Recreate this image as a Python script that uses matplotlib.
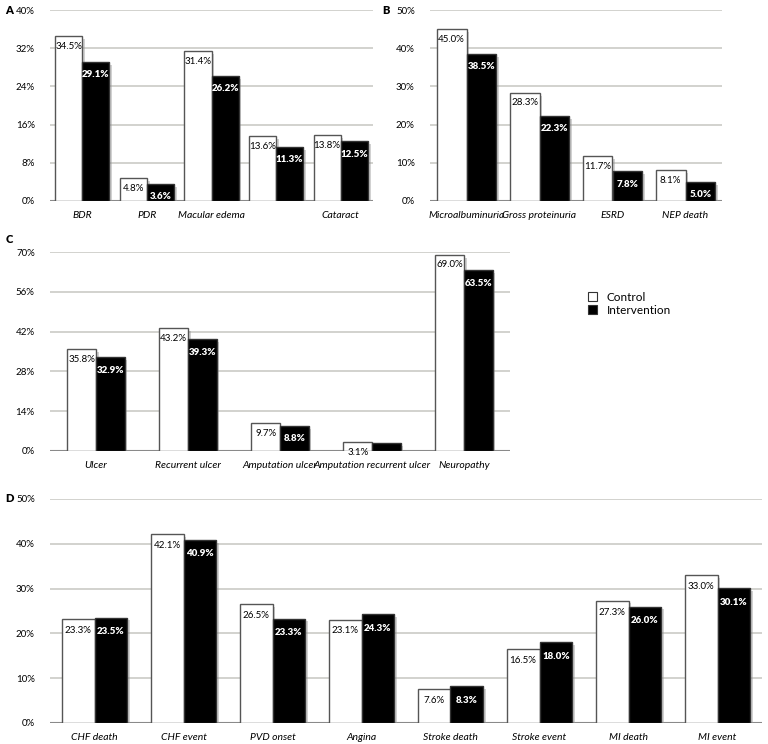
import matplotlib
matplotlib.use("Agg")
import matplotlib.pyplot as plt
import matplotlib.patheffects as pe
from matplotlib.patches import Patch
from matplotlib.ticker import FuncFormatter
import numpy as np

plt.rcParams['font.family'] = ['Lato', 'DejaVu Sans']

# ---- data ----
a_cats = ["BDR", "PDR", "Macular edema", "", "Cataract"]
a_ctrl = [34.5, 4.8, 31.4, 13.6, 13.8]
a_intv = [29.1, 3.6, 26.2, 11.3, 12.5]
a_ticks = [0, 8, 16, 24, 32, 40]

b_cats = ["Microalbuminuria", "Gross proteinuria", "ESRD", "NEP death"]
b_ctrl = [45.0, 28.3, 11.7, 8.1]
b_intv = [38.5, 22.3, 7.8, 5.0]
b_ticks = [0, 10, 20, 30, 40, 50]

c_cats = ["Ulcer", "Recurrent ulcer", "Amputation ulcer", "Amputation recurrent ulcer", "Neuropathy"]
c_ctrl = [35.8, 43.2, 9.7, 3.1, 69.0]
c_intv = [32.9, 39.3, 8.8, 2.9, 63.5]
c_ticks = [0, 14, 28, 42, 56, 70]

d_cats = ["CHF death", "CHF event", "PVD onset", "Angina", "Stroke death", "Stroke event", "MI death", "MI event"]
d_ctrl = [23.3, 42.1, 26.5, 23.1, 7.6, 16.5, 27.3, 33.0]
d_intv = [23.5, 40.9, 23.3, 24.3, 8.3, 18.0, 26.0, 30.1]
d_ticks = [0, 10, 20, 30, 40, 50]

series_names = ["Control", "Intervention"]

W, H = 768, 744
fig = plt.figure(figsize=(W / 100, H / 100), dpi=100)


def px_axes(left, top, right, bottom):
    return fig.add_axes([left / W, 1 - bottom / H, (right - left) / W, (bottom - top) / H])


shadow = [pe.SimplePatchShadow(offset=(2, -2), shadow_rgbFace='#999999', alpha=0.45), pe.Normal()]


def panel(ax, cats, ctrl, intv, ticks, width, lab_off):
    x = np.arange(len(cats))
    ax.set_xlim(-0.5, len(cats) - 0.5)
    ax.set_ylim(0, ticks[-1])
    for t in ticks:
        ax.axhline(t, color='#cfcfca', lw=1.3, zorder=0)
    ax.axhline(0, color='#8a8a8a', lw=1.5, zorder=1)
    b1 = ax.bar(x - width / 2, ctrl, width, color='white', edgecolor='#555555', lw=1.0, zorder=3)
    b2 = ax.bar(x + width / 2, intv, width, color='black', edgecolor='#333333', lw=1.0, zorder=3)
    for r in list(b1) + list(b2):
        r.set_path_effects(shadow)
    for xi, v in zip(x, ctrl):
        ax.annotate(f"{v:.1f}%", (xi - width / 2, v), xytext=(0, -lab_off), textcoords='offset points',
                    ha='center', va='top', fontsize=7, color='black', zorder=4)
    for xi, v in zip(x, intv):
        ax.annotate(f"{v:.1f}%", (xi + width / 2, v), xytext=(0, -lab_off - 2), textcoords='offset points',
                    ha='center', va='top', fontsize=7, color='white', fontweight='heavy', zorder=4)
    ax.set_xticks(x)
    ax.set_xticklabels(cats, fontstyle='italic', fontsize=7.5)
    ax.set_yticks(ticks)
    ax.yaxis.set_major_formatter(FuncFormatter(lambda v, p: f"{v:.0f}%"))
    ax.tick_params(axis='both', length=0)
    ax.tick_params(axis='y', pad=11, labelsize=7)
    ax.tick_params(axis='x', pad=7)
    for s in ax.spines.values():
        s.set_visible(False)
    ax.patch.set_alpha(0)
    return b1, b2


axA = px_axes(50, 10, 373, 201)
panel(axA, a_cats, a_ctrl, a_intv, a_ticks, 0.42, 4)
axB = px_axes(430, 10, 722, 201)
panel(axB, b_cats, b_ctrl, b_intv, b_ticks, 0.41, 4)
axC = px_axes(50, 252, 510, 451)
panel(axC, c_cats, c_ctrl, c_intv, c_ticks, 0.31, 4)
axD = px_axes(50, 499, 762, 723)
panel(axD, d_cats, d_ctrl, d_intv, d_ticks, 0.37, 5)

for letter, (xp, yp) in zip("ABCD", [(5, 10), (382, 10), (6, 240), (5, 499)]):
    fig.text(xp / W, 1 - yp / H, letter, fontsize=8, fontweight='heavy', ha='left', va='center')

handles = [Patch(facecolor='white', edgecolor='#333333', lw=0.8, label=series_names[0]),
           Patch(facecolor='black', edgecolor='#333333', lw=0.8, label=series_names[1])]
fig.legend(handles=handles, loc='upper left', bbox_to_anchor=(583 / W, 1 - 287 / H), frameon=False,
           fontsize=8.5, handlelength=0.8, handleheight=0.8, handletextpad=0.8, labelspacing=0.2,
           borderaxespad=0)

fig.savefig("out.png", dpi=100)
